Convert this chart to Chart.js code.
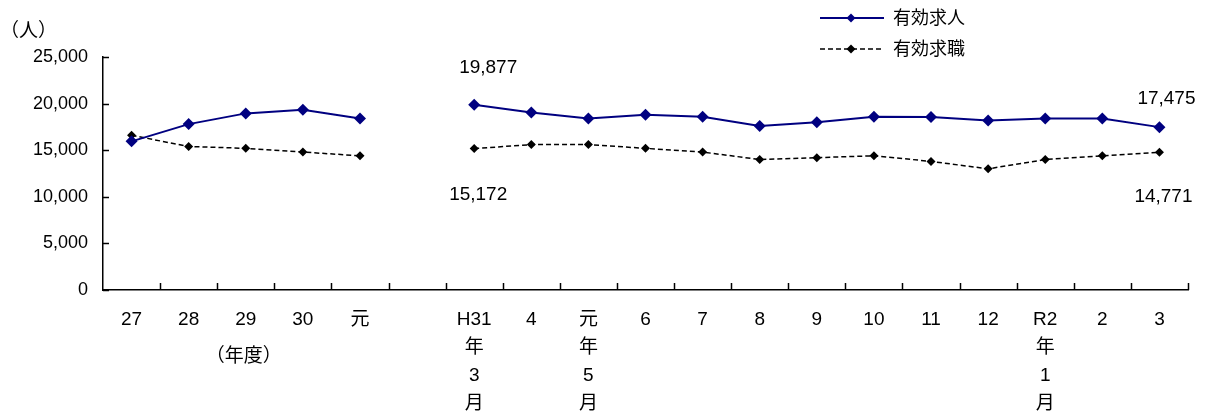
<!DOCTYPE html>
<html lang="ja">
<head>
<meta charset="UTF-8">
<title>有効求人・有効求職</title>
<style>
    body { margin: 0; background: #fff; }
    .wrap { width: 1205px; height: 415px; position: relative; }
</style>
</head>
<body>
<div class="wrap"><canvas id="chart"></canvas></div>
<script src="https://cdn.jsdelivr.net/npm/chart.js"></script>
<script>
// categories: 5 fiscal years, a blank gap, then 13 months
const labels = [
    '27', '28', '29', '30', '元', '',
    ['H31', '年', '3', '月'], '4', ['元', '年', '5', '月'], '6', '7', '8', '9', '10', '11', '12',
    ['R2', '年', '1', '月'], '2', '3'
];
const kyujin = [15950, 17800, 18950, 19350, 18400, null,
    19877, 19050, 18400, 18800, 18600, 17600, 18000, 18600, 18550, 18200, 18400, 18400, 17475];
const kyushoku = [16600, 15400, 15200, 14800, 14400, null,
    15172, 15600, 15600, 15200, 14800, 14000, 14200, 14400, 13800, 13000, 14000, 14400, 14771];
const yTicks = [0, 5000, 10000, 15000, 20000, 25000];

const FONT = '"Liberation Sans", "Noto Sans CJK JP", sans-serif';

// value labels shown on the chart: [dataset, index, dx, dy]
const valueLabels = [
    [0, 6, 14, -37],
    [1, 6, 4, 46],
    [0, 18, 7, -28],
    [1, 18, 4, 44]
];

const extras = {
    id: 'extras',
    afterDraw(chart) {
        const ctx = chart.ctx;
        const x = chart.scales.x, y = chart.scales.y;
        const area = chart.chartArea;
        ctx.save();
        ctx.strokeStyle = '#000';
        ctx.lineWidth = 1.5;
        // inward tick marks
        const w = x.getPixelForValue(1) - x.getPixelForValue(0);
        for (let i = 1; i <= labels.length; i++) {
            const px = Math.round(x.getPixelForValue(i) - w / 2) + 0.5;
            ctx.beginPath();
            ctx.moveTo(px, area.bottom);
            ctx.lineTo(px, area.bottom - 7);
            ctx.stroke();
        }
        yTicks.forEach(v => {
            const py = Math.round(y.getPixelForValue(v)) + 0.5;
            ctx.beginPath();
            ctx.moveTo(area.left, py);
            ctx.lineTo(area.left + 6, py);
            ctx.stroke();
        });

        // value labels
        ctx.fillStyle = '#000';
        ctx.font = '19px ' + FONT;
        ctx.textAlign = 'center';
        ctx.textBaseline = 'middle';
        valueLabels.forEach(([d, i, dx, dy]) => {
            const v = chart.data.datasets[d].data[i];
            ctx.fillText(v.toLocaleString('en-US'), x.getPixelForValue(i) + dx, y.getPixelForValue(v) + dy);
        });

        // unit and fiscal year captions
        ctx.font = '19px ' + FONT;
        ctx.textAlign = 'left';
        ctx.fillText('（人）', 0, 32);
        ctx.textAlign = 'center';
        ctx.fillText('（年度）', x.getPixelForValue(2) - 2, 357);

        // legend
        chart.data.datasets.forEach((ds, k) => {
            const ly = 18 + k * 31;
            ctx.strokeStyle = ds.borderColor;
            ctx.lineWidth = ds.borderWidth;
            ctx.setLineDash(ds.borderDash || []);
            ctx.beginPath();
            ctx.moveTo(820, ly);
            ctx.lineTo(884, ly);
            ctx.stroke();
            ctx.setLineDash([]);
            const r = 4.5;
            ctx.fillStyle = ds.pointBackgroundColor;
            ctx.beginPath();
            ctx.moveTo(851, ly - r);
            ctx.lineTo(851 + r, ly);
            ctx.lineTo(851, ly + r);
            ctx.lineTo(851 - r, ly);
            ctx.closePath();
            ctx.fill();
            ctx.fillStyle = '#000';
            ctx.font = '18px ' + FONT;
            ctx.textAlign = 'left';
            ctx.fillText(ds.label, 893, ly + 1);
        });
        ctx.restore();
    }
};

new Chart(document.getElementById('chart'), {
    type: 'line',
    data: {
        labels: labels,
        datasets: [
            {
                label: '有効求人',
                data: kyujin,
                borderColor: '#000080',
                backgroundColor: '#000080',
                pointBackgroundColor: '#000080',
                pointBorderColor: '#000080',
                borderWidth: 2,
                pointStyle: 'rectRot',
                pointRadius: 6,
                pointBorderWidth: 0,
                tension: 0,
                spanGaps: false
            },
            {
                label: '有効求職',
                data: kyushoku,
                borderColor: '#000',
                backgroundColor: '#000',
                pointBackgroundColor: '#000',
                pointBorderColor: '#000',
                borderWidth: 1.5,
                borderDash: [5, 3],
                pointStyle: 'rectRot',
                pointRadius: 4.5,
                pointBorderWidth: 0,
                tension: 0,
                spanGaps: false
            }
        ]
    },
    options: {
        responsive: true,
        maintainAspectRatio: false,
        animation: false,
        layout: { padding: { top: 57, right: 17, left: 0, bottom: 0 } },
        plugins: {
            legend: { display: false },
            tooltip: { enabled: false }
        },
        scales: {
            x: {
                offset: true,
                grid: { drawOnChartArea: false, drawTicks: false },
                border: { display: true, color: '#000', width: 1.5 },
                ticks: {
                    autoSkip: false,
                    maxRotation: 0,
                    padding: 16,
                    color: '#000',
                    font: { size: 19, family: FONT, lineHeight: 1.474 }
                },
                afterFit(scale) { scale.height = 125; }
            },
            y: {
                min: 0,
                max: 25000,
                afterBuildTicks(scale) { scale.ticks = yTicks.map(v => ({ value: v })); },
                grid: { drawOnChartArea: false, drawTicks: false },
                border: { display: true, color: '#000', width: 1.5 },
                ticks: {
                    padding: 15,
                    color: '#000',
                    font: { size: 18, family: FONT },
                    callback: v => v.toLocaleString('en-US')
                },
                afterFit(scale) { scale.width = 103; }
            }
        }
    },
    plugins: [extras]
});
</script>
</body>
</html>
